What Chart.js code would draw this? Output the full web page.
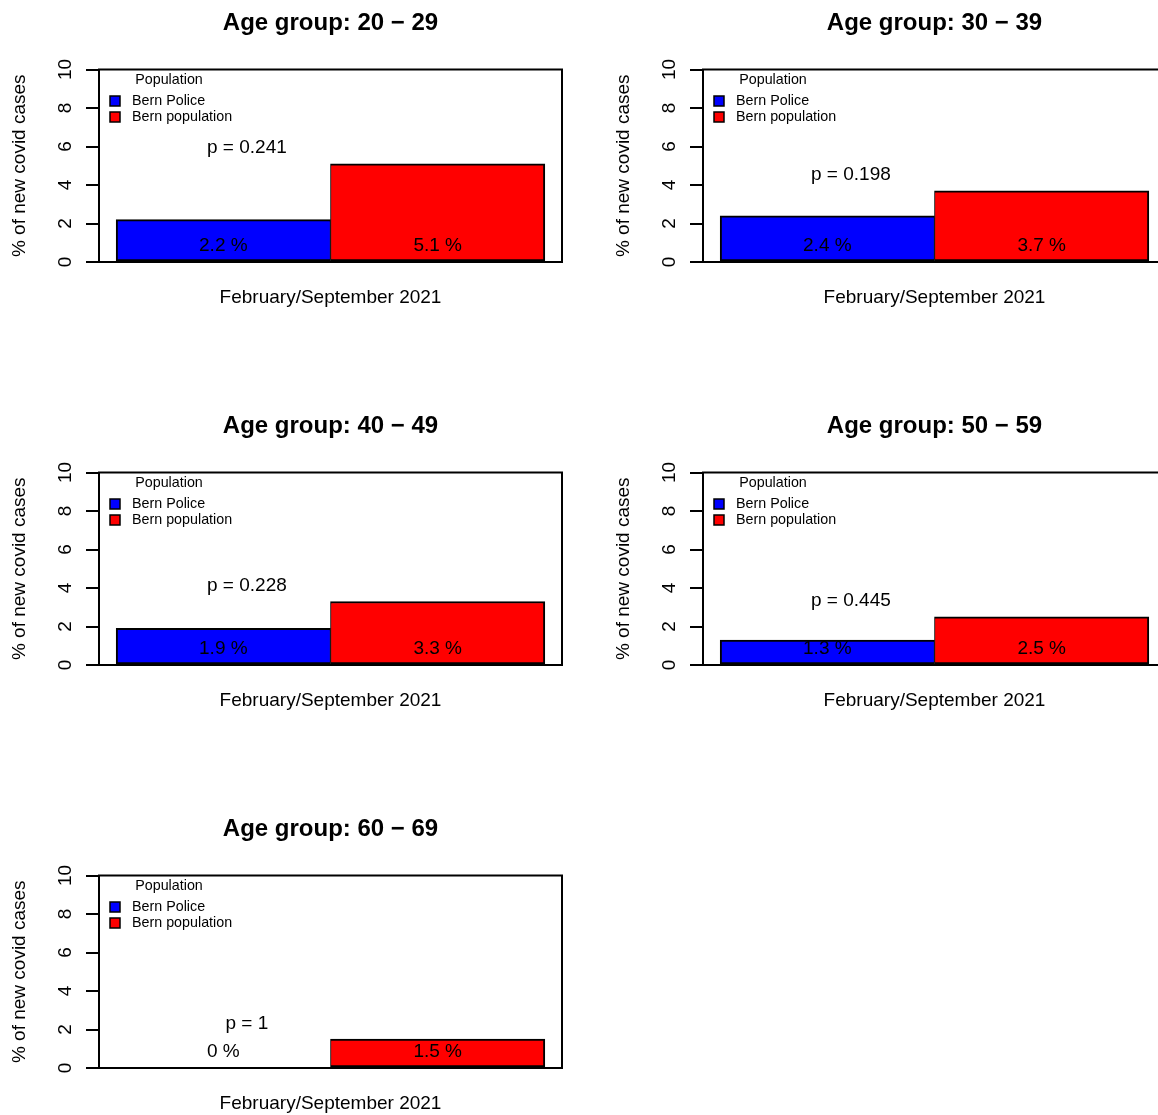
<!DOCTYPE html>
<html>
<head>
<meta charset="utf-8">
<script src="https://cdn.jsdelivr.net/npm/chart.js@4.4.0/dist/chart.umd.min.js"></script>
<style>
  html, body { margin: 0; padding: 0; background: #fff; overflow: hidden; width: 1158px; height: 1115px; }
  canvas { position: absolute; }
</style>
</head>
<body>
<script>
// data
const ageGroups = ["20 \u2212 29", "30 \u2212 39", "40 \u2212 49", "50 \u2212 59", "60 \u2212 69"];
const populations = ["Bern Police", "Bern population"];
const policeValues = [2.2, 2.4, 1.9, 1.3, 0];
const populationValues = [5.1, 3.7, 3.3, 2.5, 1.5];
const pValues = ["0.241", "0.198", "0.228", "0.445", "1"];
const yTicks = [0, 2, 4, 6, 8, 10];
const barColors = ["#0000FF", "#FF0000"];
const xTitle = "February/September 2021";
const yTitle = "% of new covid cases";
const legendTitle = "Population";

const FONT = "'Liberation Sans', Arial, sans-serif";
const panelW = 620, panelH = 403;
const colStep = 604;

// draws the box, panel title, legend, bar labels and p value
const panelDecor = {
  id: "panelDecor",
  afterDraw(chart, args, opts) {
    const ctx = chart.ctx;
    const a = chart.chartArea;
    const xs = chart.scales.x;
    const ys = chart.scales.y;
    ctx.save();
    ctx.strokeStyle = "#000";
    ctx.lineWidth = 2;
    ctx.strokeRect(a.left, a.top, a.right - a.left, a.bottom - a.top);

    ctx.fillStyle = "#000";
    ctx.textAlign = "center";
    ctx.textBaseline = "middle";
    ctx.font = "bold 24px " + FONT;
    ctx.fillText("Age group: " + opts.group, (a.left + a.right) / 2, a.top - 46);

    // legend
    ctx.font = "14.3px " + FONT;
    ctx.fillText(legendTitle, a.left + 70, a.top + 11);
    ctx.textAlign = "left";
    populations.forEach((name, j) => {
      const cy = a.top + 31.5 + j * 16;
      ctx.fillStyle = barColors[j];
      ctx.fillRect(a.left + 11, cy - 5, 10, 10);
      ctx.lineWidth = 1.5;
      ctx.strokeRect(a.left + 11, cy - 5, 10, 10);
      ctx.fillStyle = "#000";
      ctx.fillText(name, a.left + 33, cy);
    });

    // value labels inside bars
    ctx.textAlign = "center";
    ctx.font = "19px " + FONT;
    const meta = chart.getDatasetMeta(0);
    const data = chart.data.datasets[0].data;
    meta.data.forEach((bar, j) => {
      ctx.fillText(data[j].y + " %", bar.x, ys.getPixelForValue(0.82));
    });

    ctx.fillText("p = " + opts.p, xs.getPixelForValue(1.61), ys.getPixelForValue(opts.top + 0.82));
    ctx.restore();
  }
};

ageGroups.forEach((group, i) => {
  const canvas = document.createElement("canvas");
  canvas.width = panelW;
  canvas.height = panelH;
  canvas.style.left = (i % 2) * colStep + "px";
  canvas.style.top = Math.floor(i / 2) * panelH + "px";
  document.body.appendChild(canvas);

  const values = [policeValues[i], populationValues[i]];

  new Chart(canvas.getContext("2d"), {
    type: "bar",
    data: {
      datasets: [{
        label: group,
        data: values.map((v, j) => ({ x: j + 1.5, y: v })),
        backgroundColor: barColors,
        borderColor: "#000",
        borderWidth: [
          { top: 2, left: 2, right: 1, bottom: 2 },
          { top: 2, left: 1, right: 2, bottom: 2 }
        ],
        borderSkipped: false,
        categoryPercentage: 1,
        barPercentage: 1
      }]
    },
    options: {
      responsive: false,
      animation: false,
      devicePixelRatio: 1,
      layout: { padding: { top: 69.5, left: 0, right: panelW - 562, bottom: panelH - 312 } },
      plugins: {
        legend: { display: false },
        tooltip: { enabled: false },
        title: { display: false },
        panelDecor: { group: group, p: pValues[i], top: Math.max(...values) }
      },
      scales: {
        x: {
          type: "linear",
          min: 0.92,
          max: 3.08,
          offset: false,
          bounds: "data",
          afterBuildTicks: (s) => { s.ticks = [{ value: 2 }]; },
          afterFit: (s) => { s.height = 50; },
          grid: { display: false, offset: false },
          border: { display: false },
          ticks: { display: false },
          title: {
            display: true,
            text: xTitle,
            color: "#000",
            font: { family: FONT, size: 19 },
            padding: { top: 0, bottom: 3 }
          }
        },
        y: {
          min: 0,
          max: 10,
          afterBuildTicks: (s) => { s.ticks = yTicks.map(v => ({ value: v })); },
          afterFit: (s) => { s.width = 99; },
          grid: { drawOnChartArea: false, drawTicks: true, tickLength: 13, color: "#000", lineWidth: 2 },
          border: { display: true, color: "#000", width: 2 },
          ticks: {
            color: "#000",
            font: { family: FONT, size: 19 },
            minRotation: 90,
            maxRotation: 90,
            crossAlign: "center",
            padding: 10
          },
          title: {
            display: true,
            text: yTitle,
            color: "#000",
            font: { family: FONT, size: 19 },
            padding: { top: 8, bottom: 0 }
          }
        }
      }
    },
    plugins: [panelDecor]
  });
});
</script>
</body>
</html>
